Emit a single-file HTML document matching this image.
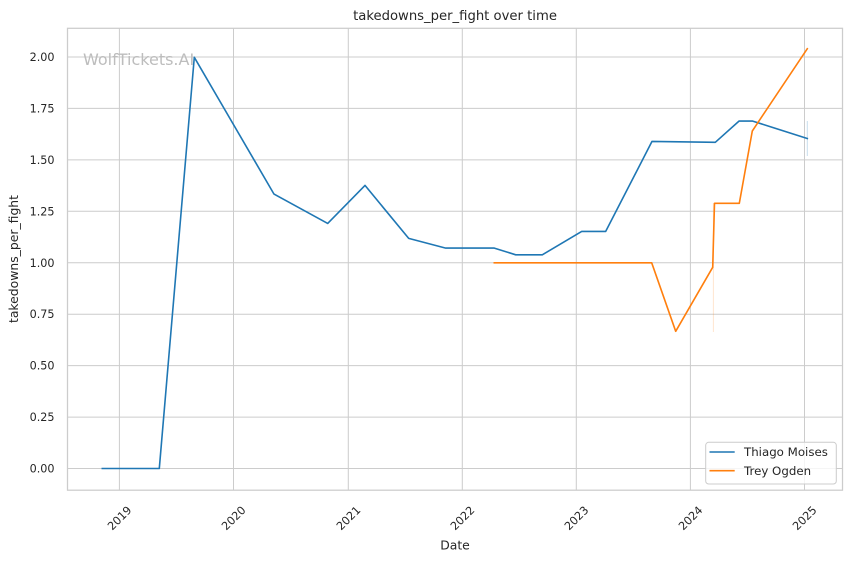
<!DOCTYPE html>
<html>
<head>
<meta charset="utf-8">
<style>
  html, body { margin: 0; padding: 0; background: #ffffff; }
  svg { display: block; }
  text { font-family: "DejaVu Sans", "Liberation Sans", sans-serif; fill: #262626; }
</style>
</head>
<body>
<svg width="852" height="561" viewBox="0 0 852 561" xmlns="http://www.w3.org/2000/svg">
  <rect x="0" y="0" width="852" height="561" fill="#ffffff"/>

  <!-- grid -->
  <g stroke="#cccccc" stroke-width="1" fill="none">
    <line x1="67.5" y1="468.5" x2="842.5" y2="468.5"/>
    <line x1="67.5" y1="417.1" x2="842.5" y2="417.1"/>
    <line x1="67.5" y1="365.6" x2="842.5" y2="365.6"/>
    <line x1="67.5" y1="314.2" x2="842.5" y2="314.2"/>
    <line x1="67.5" y1="262.8" x2="842.5" y2="262.8"/>
    <line x1="67.5" y1="211.3" x2="842.5" y2="211.3"/>
    <line x1="67.5" y1="159.9" x2="842.5" y2="159.9"/>
    <line x1="67.5" y1="108.4" x2="842.5" y2="108.4"/>
    <line x1="67.5" y1="57.0" x2="842.5" y2="57.0"/>

    <line x1="119.4" y1="28" x2="119.4" y2="490"/>
    <line x1="233.5" y1="28" x2="233.5" y2="490"/>
    <line x1="348.3" y1="28" x2="348.3" y2="490"/>
    <line x1="462.3" y1="28" x2="462.3" y2="490"/>
    <line x1="576.3" y1="28" x2="576.3" y2="490"/>
    <line x1="690.4" y1="28" x2="690.4" y2="490"/>
    <line x1="804.5" y1="28" x2="804.5" y2="490"/>
  </g>

  <!-- watermark -->
  <text x="83" y="65" font-size="16" style="fill:#bdbdbd">WolfTickets.AI</text>

  <!-- faint error bands -->
  <line x1="807.3" y1="121" x2="807.3" y2="156" stroke="#1f77b4" stroke-opacity="0.25" stroke-width="1"/>
  <line x1="713.4" y1="203" x2="713.4" y2="332" stroke="#ff7f0e" stroke-opacity="0.2" stroke-width="1"/>

  <!-- series -->
  <polyline fill="none" stroke="#1f77b4" stroke-width="1.6" stroke-linejoin="round" stroke-linecap="square"
    points="102.3,468.5 159.3,468.5 194.3,57.3 274,194.1 327.7,223.4 365,185.4 408.7,238.4 445.7,248.1 494.3,248.1 515.7,254.8 542.3,254.8 581.7,231.4 605.7,231.4 652,141.4 715.3,142.3 739,121.1 752.7,121.1 807.3,138.5"/>
  <polyline fill="none" stroke="#ff7f0e" stroke-width="1.6" stroke-linejoin="round" stroke-linecap="square"
    points="494.3,262.8 651.7,262.8 675.7,331.3 712.7,267.3 714.5,203.3 739.3,203.3 752.3,131 807.3,48.7"/>

  <!-- spines -->
  <rect x="67.5" y="28.3" width="775" height="461.9" fill="none" stroke="#cccccc" stroke-width="1.25"/>

  <!-- y tick labels -->
  <g font-size="11.2" text-anchor="end">
    <text x="54.5" y="468.5" dy="0.36em">0.00</text>
    <text x="54.5" y="417.1" dy="0.36em">0.25</text>
    <text x="54.5" y="365.6" dy="0.36em">0.50</text>
    <text x="54.5" y="314.2" dy="0.36em">0.75</text>
    <text x="54.5" y="262.8" dy="0.36em">1.00</text>
    <text x="54.5" y="211.3" dy="0.36em">1.25</text>
    <text x="54.5" y="159.9" dy="0.36em">1.50</text>
    <text x="54.5" y="108.4" dy="0.36em">1.75</text>
    <text x="54.5" y="57.0" dy="0.36em">2.00</text>
  </g>

  <!-- x tick labels -->
  <g font-size="11.2" text-anchor="middle">
    <text transform="translate(119.4,518) rotate(-45)" dy="0.36em">2019</text>
    <text transform="translate(233.5,518) rotate(-45)" dy="0.36em">2020</text>
    <text transform="translate(348.3,518) rotate(-45)" dy="0.36em">2021</text>
    <text transform="translate(462.3,518) rotate(-45)" dy="0.36em">2022</text>
    <text transform="translate(576.3,518) rotate(-45)" dy="0.36em">2023</text>
    <text transform="translate(690.4,518) rotate(-45)" dy="0.36em">2024</text>
    <text transform="translate(804.5,518) rotate(-45)" dy="0.36em">2025</text>
  </g>

  <!-- axis labels -->
  <text x="455" y="549.5" font-size="12.4" text-anchor="middle">Date</text>
  <text transform="translate(18,259) rotate(-90)" font-size="12.4" text-anchor="middle">takedowns_per_fight</text>

  <!-- title -->
  <text x="455" y="20" font-size="13.2" text-anchor="middle">takedowns_per_fight over time</text>

  <!-- legend -->
  <rect x="705.7" y="442.3" width="130.6" height="41.7" rx="3" ry="3" fill="#ffffff" fill-opacity="0.8" stroke="#cccccc" stroke-width="1"/>
  <line x1="709.5" y1="452" x2="734.7" y2="452" stroke="#1f77b4" stroke-width="1.6"/>
  <line x1="709.5" y1="470.7" x2="734.7" y2="470.7" stroke="#ff7f0e" stroke-width="1.6"/>
  <g font-size="11.8">
    <text x="744" y="452" dy="0.36em">Thiago Moises</text>
    <text x="744" y="470.7" dy="0.36em">Trey Ogden</text>
  </g>
</svg>
</body>
</html>
